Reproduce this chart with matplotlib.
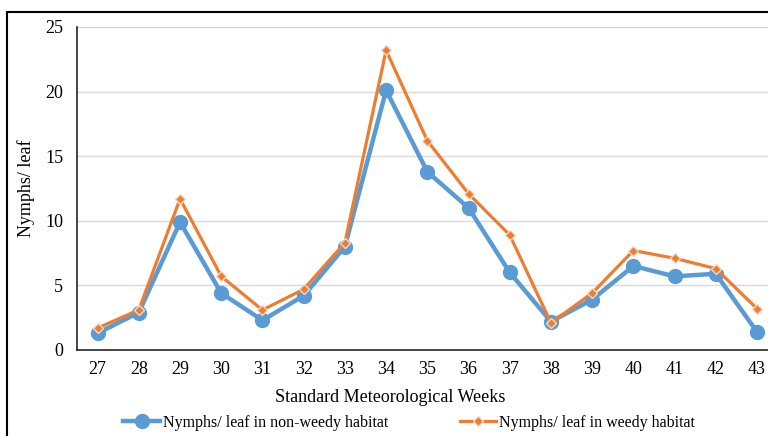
import matplotlib.pyplot as plt
from matplotlib.patches import Rectangle

weeks = ['27', '28', '29', '30', '31', '32', '33', '34', '35', '36', '37', '38', '39', '40', '41', '42', '43']
non_weedy = [1.3, 2.9, 9.9, 4.4, 2.3, 4.2, 8.0, 20.1, 13.8, 11.0, 6.0, 2.2, 3.9, 6.5, 5.7, 5.9, 1.4]
weedy = [1.7, 3.1, 11.7, 5.7, 3.1, 4.7, 8.3, 23.2, 16.2, 12.1, 8.9, 2.1, 4.4, 7.7, 7.1, 6.3, 3.2]

plt.rcParams['font.family'] = ['Liberation Serif', 'DejaVu Serif']

fig = plt.figure(figsize=(7.68, 4.36), dpi=100)
ax = fig.add_axes([77 / 768, 1 - 350 / 436, (777.6 - 77) / 768, (350 - 27) / 436])

x = list(range(len(weeks)))
ax.plot(x, non_weedy, color='#5B9BD5', lw=3.2, marker='o', markersize=10,
        label='Nymphs/ leaf in non-weedy habitat', zorder=3)
ax.plot(x, weedy, color='#ED7D31', lw=2.3, marker='D', markersize=5,
        markeredgecolor='#F2D9C8', markeredgewidth=1.0,
        label='Nymphs/ leaf in weedy habitat', zorder=4)

ax.set_xlim(-0.5, len(weeks) - 0.5)
ax.set_ylim(0, 25)
ax.set_yticks([0, 5, 10, 15, 20, 25])
ax.set_xticks(x)
ax.set_xticklabels(weeks)
ax.tick_params(axis='both', length=0, labelsize=13)
ax.tick_params(axis='x', pad=8)
ax.tick_params(axis='y', pad=10)
ax.grid(axis='y', color='#D9D9D9', lw=1)
ax.set_axisbelow(True)
for s in ['top', 'right']:
    ax.spines[s].set_visible(False)
ax.spines['left'].set_color('#262626')
ax.spines['bottom'].set_color('#262626')
ax.spines['left'].set_linewidth(1.2)
ax.spines['bottom'].set_linewidth(1.2)

ax.set_xlabel('Standard Meteorological Weeks', fontsize=13)
ax.xaxis.set_label_coords((390 - 77) / 700.6, -(397 - 350) / 323, transform=ax.transAxes)
ax.xaxis.label.set_va('center')
ax.set_ylabel('Nymphs/ leaf', fontsize=13)
ax.yaxis.set_label_coords(-(77 - 26) / 700.6, 0.5, transform=ax.transAxes)
ax.yaxis.label.set_va('center')

fig.legend(loc='center', bbox_to_anchor=(0.5326, 0.03), ncol=2, frameon=False,
           fontsize=11.5, handlelength=2.3, columnspacing=4.5, handletextpad=0.15)

fig.patches.append(Rectangle((7 / 768, -0.1), 1.2, 0.1 + 1 - 12 / 436,
                             transform=fig.transFigure, fill=False,
                             edgecolor='black', lw=1.5))

fig.savefig('out.png', dpi=100)
